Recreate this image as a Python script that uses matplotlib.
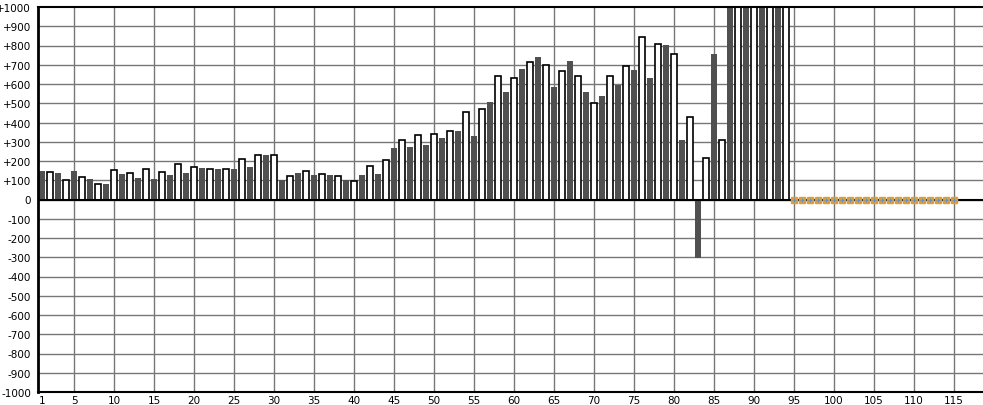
import matplotlib
matplotlib.use("Agg")
import matplotlib.pyplot as plt

# bar heights, odd positions are the dark bars, even the white ones
dark_pos = list(range(1, 94, 2))
dark_vals = [147, 140, 147, 104, 83, 130, 114, 109, 125, 140,
             166, 156, 161, 171, 229, 99, 140, 125, 125, 99,
             125, 135, 270, 275, 281, 317, 357, 332, 509, 556,
             680, 738, 587, 717, 561, 540, 597, 675, 629, 805,
             311, -303, 758, 1200, 1200, 1200, 1200]

white_pos = list(range(2, 95, 2))
white_vals = [145, 102, 118, 83, 154, 140, 159, 144, 182, 171,
              156, 156, 211, 229, 229, 124, 149, 133, 123, 97,
              175, 206, 310, 336, 341, 357, 455, 471, 639, 629,
              712, 701, 670, 639, 499, 639, 691, 842, 810, 758,
              431, 213, 311, 1200, 1200, 1200, 1200]

# empty slots drawn as small markers on the zero line
empty_pos = list(range(95, 116))
empty_vals = [0] * len(empty_pos)

xticks = [1] + list(range(5, 116, 5))
yticks = list(range(-1000, 1001, 100))
ylabels = [("+%d" % v if v > 0 else "%d" % v) for v in yticks]

fig = plt.figure(figsize=(9.83, 4.06), dpi=100)
ax = fig.add_axes([38 / 983, 13 / 406, 1 - 38 / 983, (393 - 8) / 406])

for v in yticks[1:-1]:
    ax.axhline(v, color="#777777", lw=1, zorder=0)
for x in range(5, 116, 5):
    ax.axvline(x, color="#777777", lw=1, zorder=0)

ax.bar(dark_pos, dark_vals, width=0.75, color="#505050", zorder=2)
ax.bar(white_pos, white_vals, width=0.7, color="white", edgecolor="black",
       linewidth=1.2, zorder=2)
ax.axhline(0, color="black", lw=1.5, zorder=3)

ax.plot(empty_pos, empty_vals, ls="none", marker="s", ms=4,
        color="#e89a30", zorder=4)
ax.plot(empty_pos, empty_vals, ls="none", marker="+", ms=3, mew=0.8,
        color="#5a9ad0", zorder=5)

ax.set_xlim(0.5, 118.625)
ax.set_ylim(-1000, 1000)
ax.set_xticks(xticks)
ax.set_xticklabels([str(t) for t in xticks], fontsize=7.5)
ax.set_yticks(yticks)
ax.set_yticklabels(ylabels, fontsize=7.5)
ax.tick_params(length=0, pad=5)
ax.tick_params(axis="x", pad=2)

ax.spines["right"].set_visible(False)
ax.spines["left"].set_linewidth(2)
ax.spines["top"].set_linewidth(1.5)
ax.spines["bottom"].set_linewidth(1.5)

fig.savefig("out.png", dpi=100)
